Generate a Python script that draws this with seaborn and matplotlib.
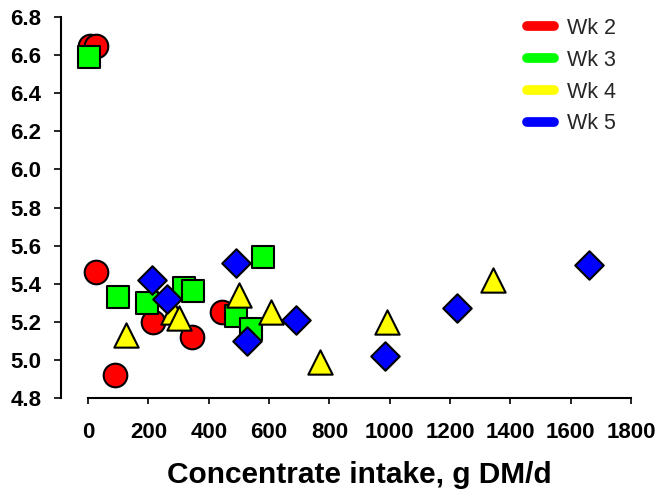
import matplotlib
matplotlib.use("Agg")
import matplotlib.pyplot as plt
from matplotlib.lines import Line2D
import seaborn as sns

# Data
wk2_x = [5, 25, 27, 90, 214, 344, 445]
wk2_y = [6.65, 6.65, 5.46, 4.92, 5.20, 5.12, 5.25]

wk3_x = [4, 100, 195, 318, 347, 581, 490, 539]
wk3_y = [6.59, 5.33, 5.30, 5.38, 5.36, 5.54, 5.23, 5.16]

wk4_x = [124, 283, 302, 500, 607, 770, 990, 1341]
wk4_y = [5.13, 5.25, 5.22, 5.34, 5.25, 4.99, 5.20, 5.42]

wk5_x = [212, 261, 490, 528, 688, 983, 1223, 1660]
wk5_y = [5.42, 5.32, 5.51, 5.10, 5.21, 5.02, 5.27, 5.50]

series_names = ["Wk 2", "Wk 3", "Wk 4", "Wk 5"]
x_ticks = [0, 200, 400, 600, 800, 1000, 1200, 1400, 1600, 1800]
y_ticks = [4.8, 5.0, 5.2, 5.4, 5.6, 5.8, 6.0, 6.2, 6.4, 6.6, 6.8]

sns.set_style("white")
plt.rcParams["font.family"] = ["Liberation Sans", "DejaVu Sans"]

W, H = 659, 490
fig = plt.figure(figsize=(W / 100, H / 100), dpi=100)
ax = fig.add_axes([61 / W, (H - 398) / H, (631 - 61) / W, (398 - 17) / H])

styles = [
    (wk2_x, wk2_y, "o", "#ff0000", 17.0),
    (wk3_x, wk3_y, "s", "#00ff00", 15.5),
    (wk4_x, wk4_y, "^", "#ffff00", 17.5),
    (wk5_x, wk5_y, "D", "#0000ff", 14.5),
]
for xs, ys, mk, col, ms in styles:
    sns.scatterplot(x=xs, y=ys, marker=mk, color=col, s=ms ** 2,
                    edgecolor="black", linewidth=1.5, ax=ax, legend=False,
                    clip_on=False, zorder=3)

ax.set_xlim(-90, 1800)
ax.set_ylim(4.8, 6.8)
ax.set_xticks(x_ticks)
ax.set_yticks(y_ticks)
ax.set_xticklabels([str(v) for v in x_ticks], fontsize=16, fontweight="bold")
ax.set_yticklabels([f"{v:.1f}" for v in y_ticks], fontsize=16, fontweight="bold")

for s in ["top", "right"]:
    ax.spines[s].set_visible(False)
for s in ["left", "bottom"]:
    ax.spines[s].set_color("black")
    ax.spines[s].set_linewidth(1.5)
ax.spines["bottom"].set_bounds(0, 1800)
ax.spines["left"].set_bounds(4.8, 6.8)

ax.tick_params(axis="y", direction="out", length=5, width=1.2, pad=9,
               colors="black", left=True)
ax.tick_params(axis="x", direction="out", length=4, width=1.2, pad=13,
               colors="black", bottom=True)

ax.set_xlabel("Concentrate intake, g DM/d", fontsize=21.5, fontweight="bold",
              color="black")
ax.xaxis.set_label_coords((900 + 90) / 1890, -0.165)
ax.set_ylabel("")

handles = [Line2D([0], [0], color=c, lw=7, solid_capstyle="round")
           for c in ["#ff0000", "#00ff00", "#ffff00", "#0000ff"]]
ax.legend(handles, series_names, loc="upper left",
          bbox_to_anchor=(527 / W, 1 - 18 / H), bbox_transform=fig.transFigure,
          frameon=False, fontsize=15.5, handlelength=1.25, handletextpad=0.6,
          labelspacing=0.5, borderpad=0, borderaxespad=0)

fig.savefig("out.png", dpi=100)
